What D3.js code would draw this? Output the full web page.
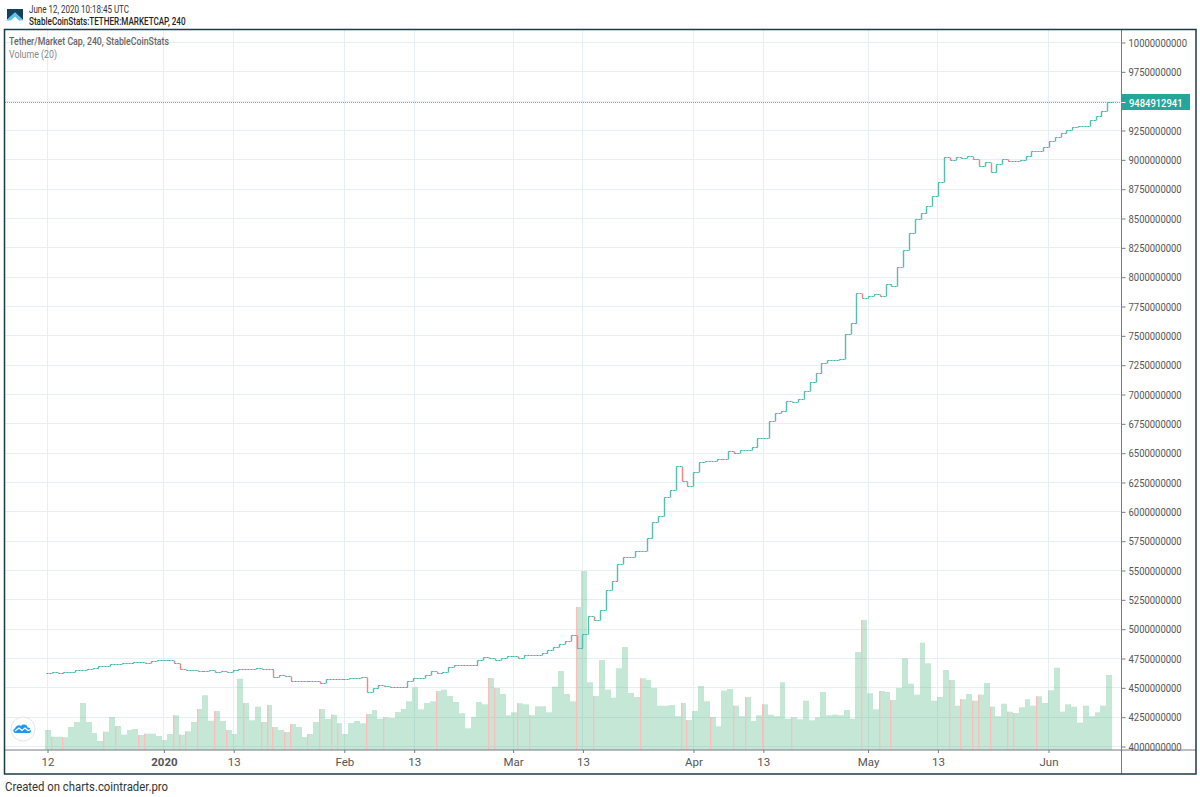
<!DOCTYPE html>
<html>
<head>
<meta charset="utf-8">
<title>Tether/Market Cap</title>
<script src="https://cdn.jsdelivr.net/npm/d3@7/dist/d3.min.js"></script>
<style>
  html, body { margin: 0; padding: 0; background: #fff; }
  svg { display: block; font-family: Roboto, sans-serif; }
</style>
</head>
<body>
<div id="chart"></div>
<script>
// closes per day, in millions
const closes = [
  4624,4629,4626,4629,4629,4646,4649,4652,4663,4680,4678,4703,4697,4706,4706,4715,4715,4706,4726,4734,
  4729,4729,4709,4652,4649,4649,4641,4641,4646,4632,4638,4632,4649,4652,4652,4652,4663,4658,4652,4590,
  4604,4598,4553,4555,4558,4558,4558,4538,4572,4572,4567,4575,4578,4581,4584,4462,4496,4516,4510,4507,
  4507,4507,4558,4581,4581,4601,4635,4626,4632,4675,4692,4692,4692,4692,4734,4757,4751,4729,4748,4768,
  4768,4748,4777,4775,4777,4791,4817,4845,4871,4893,4947,4837,4953,5107,5072,5155,5331,5408,5555,5612,
  5612,5663,5663,5771,5908,5956,6126,6178,6388,6260,6220,6337,6422,6433,6425,6442,6442,6510,6501,6524,
  6521,6547,6626,6626,6766,6839,6859,6939,6933,6956,7024,7101,7180,7268,7288,7294,7297,7513,7606,7862,
  7814,7839,7851,7837,7939,7922,8084,8229,8374,8493,8544,8606,8686,8811,9021,8998,9018,9013,9027,9007,
  8945,8981,8893,8962,9001,8987,8987,8993,9027,9072,9067,9109,9160,9192,9223,9254,9274,9280,9286,9337,
  9368,9413,9484.912941
];

// volume per day, relative units
const volumes = [
  20,13.3,13.3,12.7,23,28,47,28,17,9,18.3,33,24,15.3,20,21,15,16.3,16.3,14,
  10,16,34.7,15.3,18.7,28,41,54.7,29.3,39,29,20,16,71.3,47,29.7,43.3,28,45,23,
  20,18,26,23,13,16,28,41,31,35.3,26.7,16,27,29,26.7,36,40,31.3,32.7,32,
  38,41,48.7,62.7,40.7,47,48.7,59,60.3,54,48,36.7,21.7,33,48,45.7,72,62,56,34.7,
  37.7,46.7,45.7,34.7,43.7,43.7,37.7,63.3,79,56,48.7,143,179,67.7,54,90,60.3,52.3,81.7,103,
  57,53,71.7,70,62,44.3,44.3,45,33.7,47,30,39,64,48.7,33,23.7,59.3,61,44.3,33.7,
  53,29,34.7,45.7,35.3,33.7,67.7,31.3,32.7,30.7,49.3,29.7,32.7,58,34.7,35.3,34.7,40,31.3,98,
  130,56.7,40.7,59,58,50,62,91.7,66.3,55.3,107.3,86.7,49.3,53,80,70,44.3,50.7,56,49.3,
  55.3,67,43.3,33.7,46.3,38.3,37,42.7,50.7,44.3,53.7,47,59.7,82.3,38.3,45.7,43.3,27.3,44.3,33.7,
  37.7,44.3,75
];

// days whose volume bar carries the red edge
const downDays = [
  1,3,10,12,16,17,22,23,24,26,29,31,34,37,38,39,41,42,45,47,49,50,55,58,
  67,76,77,81,83,91,94,102,109,110,114,118,120,123,128,
  140,143,145,155,157,159,160,162,165,166,170
];

const timeTickDates = ["2019-12-12","2020-01-01","2020-01-13","2020-02-01","2020-02-13","2020-03-01","2020-03-13","2020-04-01","2020-04-13","2020-05-01","2020-05-13","2020-06-01"];
const timeTickLabels = ["12","2020","13","Feb","13","Mar","13","Apr","13","May","13","Jun"];
const priceTicks = d3.range(4000000000, 10000000001, 250000000);
const lastPrice = 9484912941;

const width = 1200;
const height = 797;
const plot = { left: 5, top: 30, right: 1121.5, bottom: 750 };

const teal = "#26a69a";
const gridColor = "#e6eff3";

const svg = d3.select("#chart").append("svg")
  .attr("width", width)
  .attr("height", height);

// y: price axis
const yScale = d3.scaleLinear()
  .domain([4000000000, 10000000000])
  .range([746.5, 42.5]);

// x: one band per day for the marks, a time scale for the ticks
const xBand = d3.scaleBand()
  .domain(d3.range(closes.length))
  .range([45, 1112]);

const parseDay = d3.utcParse("%Y-%m-%d");
const xTime = d3.scaleUtc()
  .domain([parseDay("2019-12-12"), parseDay("2020-06-01")])
  .range([47.5, 1048.5]);

// volume has its own scale at the bottom of the pane
const volScale = d3.scaleLinear()
  .domain([0, 180])
  .range([plot.bottom, plot.bottom - 180]);

const crisp = (v) => Math.round(v - 0.5) + 0.5;
const bandLeft = (i) => Math.round(i < closes.length ? xBand(i) : 1112);

// Squeezed text: the reference font is narrower than plain Roboto
function label(x, y, text, textWidth, opts = {}) {
  return svg.append("text")
    .attr("x", x)
    .attr("y", y)
    .attr("font-size", opts.size || 11)
    .attr("font-weight", opts.weight || 400)
    .attr("fill", opts.fill || "#333")
    .attr("textLength", textWidth)
    .attr("lengthAdjust", "spacingAndGlyphs")
    .text(text);
}

// Grid
svg.append("g").attr("class", "grid-x")
  .selectAll("line")
  .data(timeTickDates)
  .enter().append("line")
  .attr("x1", (d) => crisp(xTime(parseDay(d))))
  .attr("x2", (d) => crisp(xTime(parseDay(d))))
  .attr("y1", plot.top)
  .attr("y2", plot.bottom)
  .attr("stroke", gridColor);

svg.append("g").attr("class", "grid-y")
  .selectAll("line")
  .data(priceTicks)
  .enter().append("line")
  .attr("x1", plot.left)
  .attr("x2", plot.right)
  .attr("y1", (d) => crisp(yScale(d)))
  .attr("y2", (d) => crisp(yScale(d)))
  .attr("stroke", gridColor);

// Volume bars, snapped to whole pixels so neighbours neither gap nor overlap
svg.append("g").attr("class", "volume")
  .selectAll("rect")
  .data(volumes)
  .enter().append("rect")
  .attr("x", (d, i) => bandLeft(i))
  .attr("y", (d) => volScale(d))
  .attr("width", (d, i) => bandLeft(i + 1) - bandLeft(i))
  .attr("height", (d) => volScale(0) - volScale(d))
  .attr("fill", "#53b987")
  .attr("fill-opacity", 0.34);

svg.append("g").attr("class", "volume-down")
  .selectAll("rect")
  .data(downDays)
  .enter().append("rect")
  .attr("x", (d) => bandLeft(d))
  .attr("y", (d) => volScale(volumes[d]))
  .attr("width", 1.3)
  .attr("height", (d) => volScale(0) - volScale(volumes[d]))
  .attr("fill", "#ffbcbe");

// Last price line
svg.append("line")
  .attr("x1", plot.left)
  .attr("x2", plot.right)
  .attr("y1", crisp(yScale(lastPrice)))
  .attr("y2", crisp(yScale(lastPrice)))
  .attr("stroke", "#3cc4b4")
  .attr("stroke-dasharray", "1 1");

// Step line: flats are broken up over a pale under-line, risers are solid
const yClose = (i) => crisp(yScale(closes[i] * 1000000));
const stepX = (i) => bandLeft(i) + 1.5;

svg.append("g").attr("class", "line-flat-under")
  .selectAll("line")
  .data(closes)
  .enter().append("line")
  .attr("x1", (d, i) => stepX(i))
  .attr("x2", (d, i) => stepX(i + 1))
  .attr("y1", (d, i) => yClose(i))
  .attr("y2", (d, i) => yClose(i))
  .attr("stroke", teal)
  .attr("stroke-opacity", 0.25);

svg.append("g").attr("class", "line-flat")
  .selectAll("line")
  .data(closes)
  .enter().append("line")
  .attr("x1", (d, i) => stepX(i))
  .attr("x2", (d, i) => stepX(i + 1))
  .attr("y1", (d, i) => yClose(i))
  .attr("y2", (d, i) => yClose(i))
  .attr("stroke", "#3fb5a8")
  .attr("stroke-dasharray", "2 1");

svg.append("g").attr("class", "line-riser")
  .selectAll("line")
  .data(closes.slice(1))
  .enter().append("line")
  .attr("x1", (d, i) => stepX(i + 1))
  .attr("x2", (d, i) => stepX(i + 1))
  .attr("y1", (d, i) => yClose(i))
  .attr("y2", (d, i) => yClose(i + 1))
  .attr("stroke", (d, i) => (d < closes[i] ? "#f58583" : "#55bdb1"))
  .attr("stroke-width", 1.4);

// Price axis
const yAxis = svg.append("g")
  .attr("class", "axis y-axis")
  .attr("transform", `translate(${plot.right},0)`)
  .call(d3.axisRight(yScale).tickValues(priceTicks).tickSize(4).tickPadding(3).tickFormat(d3.format("d")));
yAxis.select(".domain").remove();
yAxis.selectAll("line").attr("stroke", "#787b86");
yAxis.selectAll("text")
  .attr("font-family", "Roboto, sans-serif")
  .attr("font-size", 11.5)
  .attr("fill", "#555")
  .attr("lengthAdjust", "spacingAndGlyphs")
  .attr("textLength", (d) => String(d).length * 5.32);

// Time axis
const xAxis = svg.append("g")
  .attr("class", "axis x-axis")
  .attr("transform", `translate(0,${plot.bottom})`)
  .call(d3.axisBottom(xTime)
    .tickValues(timeTickDates.map(parseDay))
    .tickSize(3)
    .tickPadding(5)
    .tickFormat((d, i) => timeTickLabels[i]));
xAxis.select(".domain").remove();
xAxis.selectAll("line").attr("stroke", "#787b86");
xAxis.selectAll("text")
  .attr("font-family", "Roboto, sans-serif")
  .attr("font-size", 11.5)
  .attr("fill", "#555")
  .attr("font-weight", (d, i) => (timeTickLabels[i] === "2020" ? 700 : 400));

// Pane separators
svg.append("line")
  .attr("x1", plot.left).attr("x2", 1196)
  .attr("y1", plot.bottom).attr("y2", plot.bottom)
  .attr("stroke", "#787b86");
svg.append("line")
  .attr("x1", plot.right).attr("x2", plot.right)
  .attr("y1", plot.top).attr("y2", 774)
  .attr("stroke", "#787b86");

// Frame
svg.append("rect")
  .attr("x", 4.5).attr("y", 29.5)
  .attr("width", 1191.5).attr("height", 744.5)
  .attr("fill", "none")
  .attr("stroke", "#1c3b4a")
  .attr("stroke-width", 1.5);

// Last price badge
svg.append("rect")
  .attr("x", plot.right + 0.5)
  .attr("y", crisp(yScale(lastPrice)) - 8.5)
  .attr("width", 68)
  .attr("height", 16)
  .attr("fill", teal);
svg.append("line")
  .attr("x1", plot.right).attr("x2", plot.right + 4)
  .attr("y1", crisp(yScale(lastPrice))).attr("y2", crisp(yScale(lastPrice)))
  .attr("stroke", "#fff");
label(1129, yScale(lastPrice) + 4, d3.format("d")(lastPrice), 53.5, { size: 11.5, weight: 500, fill: "#fff" });

// Header and legend
label(29, 12.5, "June 12, 2020 10:18:45 UTC", 100, { size: 10.5, fill: "#333" });
label(29, 25, "StableCoinStats:TETHER:MARKETCAP, 240", 156.5, { size: 10.5, weight: 500, fill: "#222" });
label(9, 45, "Tether/Market Cap, 240, StableCoinStats", 160, { size: 11.5, weight: 500, fill: "#666" });
label(9, 58, "Volume (20)", 48, { size: 11.5, fill: "#888" });
label(5, 791, "Created on charts.cointrader.pro", 163, { size: 12, fill: "#333" });

// Header logo
const logo = svg.append("g").attr("class", "logo");
logo.append("path")
  .attr("d", "M7 9 H23 V20 L15 12.5 L7 20 Z")
  .attr("fill", "#14425e");
logo.append("path")
  .attr("d", "M6 20.5 L15 12.5 L23 20.5 H19 L15 16.5 L11 20.5 Z")
  .attr("fill", "#5cc3e8");

// Bubble logo
const badge = svg.append("g").attr("class", "badge").attr("transform", "translate(23,729)");
badge.append("circle")
  .attr("r", 12)
  .attr("fill", "#fff")
  .attr("stroke", "#e6e6e6");
badge.append("path")
  .attr("d", "M-7.5 4 C-10 4 -10.5 0 -8 -0.5 C-7.5 -3 -4 -5 -2 -3 C0 -5.5 4.5 -4.5 4.5 -1.5 C8 -2 9.5 4 6 4 Z")
  .attr("fill", "#2196f3");
badge.append("path")
  .attr("d", "M-8 2 L-4 -1 L-1 1.5 L2 -1 L5 1.5 L8 0.5")
  .attr("fill", "none")
  .attr("stroke", "#fff")
  .attr("stroke-width", 1.2);
</script>
</body>
</html>
